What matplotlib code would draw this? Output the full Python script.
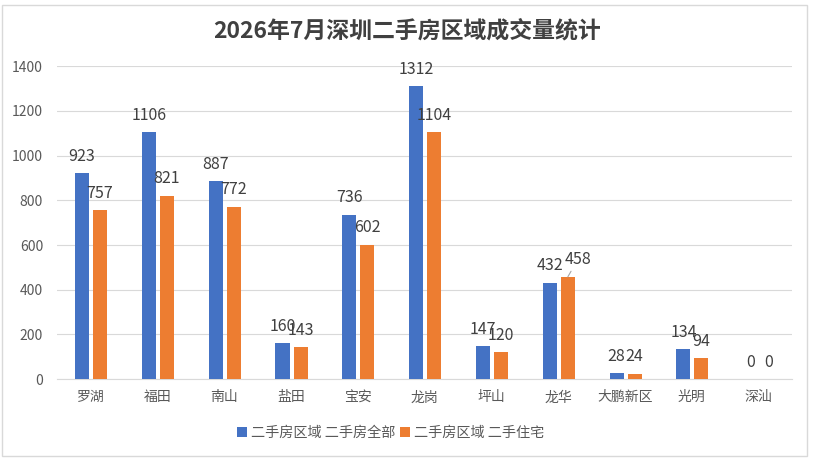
import matplotlib.pyplot as plt
import numpy as np
from matplotlib.patches import Rectangle

plt.rcParams['font.family'] = ['Noto Sans CJK SC', 'DejaVu Sans']

districts = ['罗湖', '福田', '南山', '盐田', '宝安', '龙岗', '坪山', '龙华', '大鹏新区', '光明', '深汕']
all_homes = [923, 1106, 887, 160, 736, 1312, 147, 432, 28, 134, 0]
residential = [757, 821, 772, 143, 602, 1104, 120, 458, 24, 94, 0]
yticks = [0, 200, 400, 600, 800, 1000, 1200, 1400]

blue = '#4472C4'
orange = '#ED7D31'
txt = '#404040'

fig = plt.figure(figsize=(8.14, 4.63), dpi=100)
fig.patches.append(Rectangle((0.002, 0.015), 0.99, 0.975, transform=fig.transFigure,
                             fill=False, edgecolor='#d9d9d9', linewidth=1))
ax = fig.add_axes([0.070, 0.181, 0.903, 0.676])

x = np.arange(len(districts))
w = 0.21
b1 = ax.bar(x - 0.125, all_homes, w, color=blue, label='二手房区域 二手房全部', zorder=3)
b2 = ax.bar(x + 0.145, residential, w, color=orange, label='二手房区域 二手住宅', zorder=3)

for rect, v in zip(b1, all_homes):
    ax.annotate(str(v), (rect.get_x() + rect.get_width() / 2, v), xytext=(0, 6),
                textcoords='offset points', ha='center', va='bottom', fontsize=11.5, color=txt)
for i, (rect, v) in enumerate(zip(b2, residential)):
    cx = rect.get_x() + rect.get_width() / 2
    if districts[i] == '龙华':
        ax.annotate(str(v), (cx, v), xytext=(7, 6), textcoords='offset points',
                    ha='center', va='bottom', fontsize=11.5, color=txt,
                    arrowprops=dict(arrowstyle='-', color='#a6a6a6', lw=0.8, shrinkA=0, shrinkB=0))
    else:
        ax.annotate(str(v), (cx, v), xytext=(0, 6), textcoords='offset points',
                    ha='center', va='bottom', fontsize=11.5, color=txt)

ax.set_xlim(-0.5, len(districts) - 0.5)
ax.set_ylim(0, 1400)
ax.set_yticks(yticks)
ax.set_xticks(x)
ax.set_xticklabels(districts)
ax.tick_params(axis='both', length=0, labelsize=10, colors='#595959')
ax.tick_params(axis='x', pad=8)
ax.tick_params(axis='y', pad=10)
ax.grid(axis='y', color='#d9d9d9', linewidth=0.8, zorder=0)
for s in ['top', 'right', 'left']:
    ax.spines[s].set_visible(False)
ax.spines['bottom'].set_color('#d9d9d9')

fig.text(0.5, 0.932, '2026年7月深圳二手房区域成交量统计', ha='center', va='center',
         fontsize=16.5, fontweight='bold', color=txt)
fig.legend(loc='center', bbox_to_anchor=(0.48, 0.065), ncol=2, frameon=False,
           fontsize=10.2, handlelength=0.7, handleheight=0.7, columnspacing=0.3,
           handletextpad=0.3, labelcolor='#595959')

fig.savefig('out.png', dpi=100)
